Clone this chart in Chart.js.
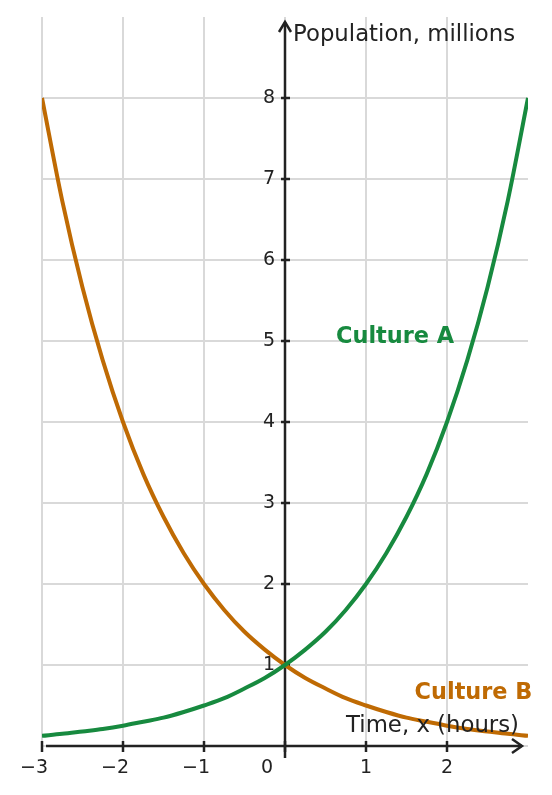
<!DOCTYPE html>
<html>
<head>
<meta charset="utf-8">
<script src="https://cdn.jsdelivr.net/npm/chart.js@4.4.1/dist/chart.umd.min.js"></script>
<style>
html,body{margin:0;padding:0;background:#fff;}
#wrap{width:552px;height:795px;position:relative;}
</style>
</head>
<body>
<div id="wrap"><canvas id="c" width="552" height="795"></canvas></div>
<script>
// Data
const timeHours = [-3, -2.75, -2.5, -2.25, -2, -1.75, -1.5, -1.25, -1, -0.75, -0.5, -0.25, 0, 0.25, 0.5, 0.75, 1, 1.25, 1.5, 1.75, 2, 2.25, 2.5, 2.75, 3];
const cultureA = [0.125, 0.15, 0.18, 0.21, 0.25, 0.3, 0.35, 0.42, 0.5, 0.59, 0.71, 0.84, 1, 1.19, 1.41, 1.68, 2, 2.38, 2.83, 3.36, 4, 4.76, 5.66, 6.73, 8];
const cultureB = [8, 6.73, 5.66, 4.76, 4, 3.36, 2.83, 2.38, 2, 1.68, 1.41, 1.19, 1, 0.84, 0.71, 0.59, 0.5, 0.42, 0.35, 0.3, 0.25, 0.21, 0.18, 0.15, 0.125];
const xTickLabels = ['−3', '−2', '−1', '0', '1', '2'];
const xTickValues = [-3, -2, -1, 0, 1, 2];
const yTickValues = [1, 2, 3, 4, 5, 6, 7, 8];
const yTickLabels = ['1', '2', '3', '4', '5', '6', '7', '8'];
const xTitle = 'Time, x (hours)';
const yTitle = 'Population, millions';
const seriesNames = ['Culture A', 'Culture B'];

const GREEN = '#178a3f';
const ORANGE = '#bf6a03';
const AXIS = '#222222';
const GRID = '#d9d9d9';
const FONT = '"DejaVu Sans", sans-serif';

const toPts = (xs, ys) => xs.map((x, i) => ({x: x, y: ys[i]}));

const axesPlugin = {
  id: 'axesPlugin',
  beforeDatasetsDraw(chart) {
    const ctx = chart.ctx;
    const xs = chart.scales.x, ys = chart.scales.y;
    const x0 = xs.getPixelForValue(0), y0 = ys.getPixelForValue(0);
    const left = xs.getPixelForValue(-3), right = chart.chartArea.right;
    const top = chart.chartArea.top;
    ctx.save();
    ctx.strokeStyle = AXIS;
    ctx.fillStyle = AXIS;
    ctx.lineWidth = 2.5;
    ctx.lineCap = 'butt';
    ctx.beginPath();
    ctx.moveTo(left + 4, y0);
    ctx.lineTo(right - 6, y0);
    ctx.stroke();
    ctx.beginPath();
    ctx.moveTo(right - 16, y0 - 7);
    ctx.lineTo(right - 6, y0);
    ctx.lineTo(right - 16, y0 + 7);
    ctx.stroke();
    ctx.beginPath();
    ctx.moveTo(x0, y0 + 12);
    ctx.lineTo(x0, top + 5);
    ctx.stroke();
    ctx.beginPath();
    ctx.moveTo(x0 - 6, top + 15);
    ctx.lineTo(x0, top + 5);
    ctx.lineTo(x0 + 6, top + 15);
    ctx.stroke();
    xTickValues.forEach(v => {
      const px = xs.getPixelForValue(v);
      ctx.beginPath();
      ctx.moveTo(px, y0 - 5);
      ctx.lineTo(px, y0 + 6);
      ctx.stroke();
    });
    yTickValues.forEach(v => {
      const py = ys.getPixelForValue(v);
      ctx.beginPath();
      ctx.moveTo(x0 - 4, py);
      ctx.lineTo(x0 + 5, py);
      ctx.stroke();
    });
    ctx.font = '19px ' + FONT;
    ctx.textBaseline = 'alphabetic';
    ctx.textAlign = 'center';
    const minusW = ctx.measureText('−').width;
    xTickValues.forEach((v, i) => {
      let px = xs.getPixelForValue(v);
      if (v === 0) px -= 18;
      if (v < 0) px -= minusW / 2;
      ctx.fillText(xTickLabels[i], px, y0 + 27);
    });
    ctx.textAlign = 'right';
    ctx.textBaseline = 'middle';
    yTickValues.forEach((v, i) => {
      const py = ys.getPixelForValue(v);
      ctx.fillText(yTickLabels[i], x0 - 10, py);
    });
    ctx.restore();
  },
  afterDatasetsDraw(chart) {
    const ctx = chart.ctx;
    const xs = chart.scales.x, ys = chart.scales.y;
    const x0 = xs.getPixelForValue(0);
    ctx.save();
    ctx.textBaseline = 'middle';
    ctx.font = '22.8px ' + FONT;
    ctx.fillStyle = AXIS;
    ctx.textAlign = 'left';
    ctx.fillText(yTitle, x0 + 8, chart.chartArea.top + 18);
    ctx.textAlign = 'right';
    ctx.fillText(xTitle, chart.chartArea.right - 9, ys.getPixelForValue(0.25));
    ctx.font = 'bold 22.4px ' + FONT;
    ctx.textAlign = 'left';
    ctx.fillStyle = GREEN;
    ctx.fillText(seriesNames[0], xs.getPixelForValue(0.63), ys.getPixelForValue(5.05));
    ctx.fillStyle = ORANGE;
    ctx.fillText(seriesNames[1], xs.getPixelForValue(1.6), ys.getPixelForValue(0.65));
    ctx.restore();
  }
};

new Chart(document.getElementById('c'), {
  type: 'scatter',
  data: {
    datasets: [
      {label: seriesNames[0], data: toPts(timeHours, cultureA), borderColor: GREEN, borderWidth: 4, showLine: true, pointRadius: 0, tension: 0.4, cubicInterpolationMode: 'monotone', fill: false},
      {label: seriesNames[1], data: toPts(timeHours, cultureB), borderColor: ORANGE, borderWidth: 4, showLine: true, pointRadius: 0, tension: 0.4, cubicInterpolationMode: 'monotone', fill: false}
    ]
  },
  options: {
    responsive: false,
    animation: false,
    layout: {padding: {left: 42, right: 24, top: 17, bottom: 49}},
    plugins: {legend: {display: false}, tooltip: {enabled: false}},
    scales: {
      x: {
        type: 'linear', min: -3, max: 3,
        ticks: {display: false, stepSize: 1},
        border: {display: false},
        grid: {drawTicks: false, lineWidth: 2, color: c => (c.tick && c.tick.value === 3) ? 'rgba(0,0,0,0)' : GRID},
        afterFit: s => { s.height = 0; }
      },
      y: {
        type: 'linear', min: 0, max: 9,
        ticks: {display: false, stepSize: 1},
        border: {display: false},
        grid: {drawTicks: false, lineWidth: 2, color: c => (c.tick && c.tick.value === 9) ? 'rgba(0,0,0,0)' : GRID},
        afterFit: s => { s.width = 0; }
      }
    }
  },
  plugins: [axesPlugin]
});
</script>
</body>
</html>
